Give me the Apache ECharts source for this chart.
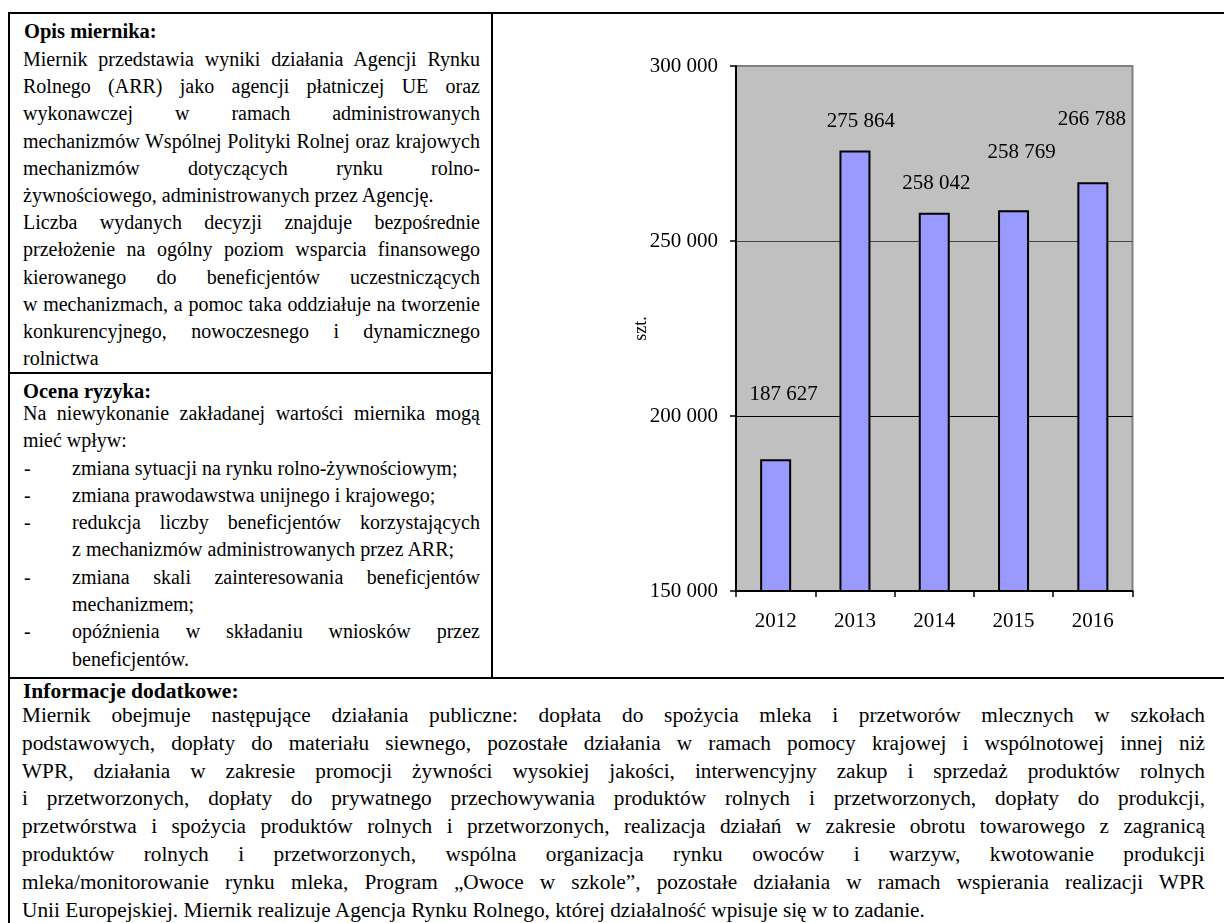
<!DOCTYPE html>
<html lang="pl">
<head>
<meta charset="utf-8">
<title>Miernik ARR</title>
<script src="https://cdn.jsdelivr.net/npm/echarts@6/dist/echarts.min.js"></script>
<style>
  html, body {
    margin: 0;
    padding: 0;
    width: 1224px;
    height: 923px;
    overflow: hidden;
    background: #fff;
    font-family: "Liberation Serif", "Times New Roman", serif;
    color: #000;
  }
  .hline, .vline {
    position: absolute;
    background: #000;
  }
  .sec {
    position: absolute;
    font-size: 20px;
  }
  .head {
    position: absolute;
    font-size: 20.5px;
    font-weight: bold;
    line-height: 22px;
    white-space: nowrap;
  }
  .sec div {
    position: relative;
  }
  .j {
    text-align: justify;
    text-align-last: justify;
  }
  .l {
    text-align: left;
  }
  .ind {
    padding-left: 49px;
  }
  .dash {
    position: absolute;
    left: 1px;
  }
  #chart {
    position: absolute;
    left: 493px;
    top: 14px;
    width: 731px;
    height: 663px;
  }
</style>
</head>
<body>

<!-- ramka tabeli -->
<div class="hline" style="left:8px; top:12px; width:1220px; height:2px;"></div>
<div class="vline" style="left:8px; top:12px; width:2px; height:920px;"></div>
<div class="vline" style="left:491px; top:12px; width:2px; height:667px;"></div>
<div class="hline" style="left:8px; top:372px; width:485px; height:2px;"></div>
<div class="hline" style="left:8px; top:677px; width:1220px; height:2px;"></div>

<div class="head" style="left:24px; top:20px;">Opis miernika:</div>
<div class="sec" style="left:23px; top:46px; width:457px; line-height:27.2px;">
  <div class="j">Miernik przedstawia wyniki działania Agencji Rynku</div>
  <div class="j">Rolnego (ARR) jako agencji płatniczej UE oraz</div>
  <div class="j">wykonawczej w ramach administrowanych</div>
  <div class="j">mechanizmów Wspólnej Polityki Rolnej oraz krajowych</div>
  <div class="j">mechanizmów dotyczących rynku rolno-</div>
  <div class="l">żywnościowego, administrowanych przez Agencję.</div>
  <div class="j">Liczba wydanych decyzji znajduje bezpośrednie</div>
  <div class="j">przełożenie na ogólny poziom wsparcia finansowego</div>
  <div class="j">kierowanego do beneficjentów uczestniczących</div>
  <div class="j">w mechanizmach, a pomoc taka oddziałuje na tworzenie</div>
  <div class="j">konkurencyjnego, nowoczesnego i dynamicznego</div>
  <div class="l">rolnictwa</div>
</div>

<div class="head" style="left:23px; top:380px;">Ocena ryzyka:</div>
<div class="sec" style="left:23px; top:400px; width:457px; line-height:27.3px;">
  <div class="j">Na niewykonanie zakładanej wartości miernika mogą</div>
  <div class="l">mieć wpływ:</div>
  <div class="l ind"><span class="dash">-</span>zmiana sytuacji na rynku rolno-żywnościowym;</div>
  <div class="l ind"><span class="dash">-</span>zmiana prawodawstwa unijnego i krajowego;</div>
  <div class="j ind"><span class="dash">-</span>redukcja liczby beneficjentów korzystających</div>
  <div class="l ind">z mechanizmów administrowanych przez ARR;</div>
  <div class="j ind"><span class="dash">-</span>zmiana skali zainteresowania beneficjentów</div>
  <div class="l ind">mechanizmem;</div>
  <div class="j ind"><span class="dash">-</span>opóźnienia w składaniu wniosków przez</div>
  <div class="l ind">beneficjentów.</div>
</div>

<div class="head" style="left:23px; top:680px; font-size:21.5px;">Informacje dodatkowe:</div>
<div class="sec" style="left:22px; top:702px; width:1183px; line-height:27.8px; font-size:21.3px;">
  <div class="j">Miernik obejmuje następujące działania publiczne: dopłata do spożycia mleka i przetworów mlecznych w szkołach</div>
  <div class="j">podstawowych, dopłaty do materiału siewnego, pozostałe działania w ramach pomocy krajowej i wspólnotowej innej niż</div>
  <div class="j">WPR, działania w zakresie promocji żywności wysokiej jakości, interwencyjny zakup i sprzedaż produktów rolnych</div>
  <div class="j">i przetworzonych, dopłaty do prywatnego przechowywania produktów rolnych i przetworzonych, dopłaty do produkcji,</div>
  <div class="j">przetwórstwa i spożycia produktów rolnych i przetworzonych, realizacja działań w zakresie obrotu towarowego z zagranicą</div>
  <div class="j">produktów rolnych i przetworzonych, wspólna organizacja rynku owoców i warzyw, kwotowanie produkcji</div>
  <div class="j">mleka/monitorowanie rynku mleka, Program „Owoce w szkole”, pozostałe działania w ramach wspierania realizacji WPR</div>
  <div class="l">Unii Europejskiej. Miernik realizuje Agencja Rynku Rolnego, której działalność wpisuje się w to zadanie.</div>
</div>

<div id="chart"></div>

<script>
  // dane z wykresu
  var years = ['2012', '2013', '2014', '2015', '2016'];
  var decisions = [187627, 275864, 258042, 258769, 266788];
  var yTicks = [150000, 200000, 250000, 300000];
  // przesunięcia etykiet (jak w Excelu, etykiety nie leżą równo nad słupkami)
  var labelNudges = [[8, -54], [6, -18], [2, -19], [8, -47], [-1, -52]];

  var serif = 'Liberation Serif';

  function fmt(v) {
    return String(v).replace(/\B(?=(\d{3})+(?!\d))/g, ' ');
  }

  var chart = echarts.init(document.getElementById('chart'));
  chart.setOption({
    animation: false,
    grid: {
      left: 243,
      top: 52,
      right: 91.5,
      bottom: 86,
      show: true,
      backgroundColor: '#C0C0C0',
      borderColor: '#808080',
      borderWidth: 2
    },
    xAxis: {
      type: 'category',
      data: years,
      axisLine: { lineStyle: { color: '#000', width: 2 } },
      axisTick: { show: true, length: 6, lineStyle: { color: '#000', width: 1.5 } },
      axisLabel: { color: '#000', fontFamily: serif, fontSize: 21, margin: 20 },
      splitLine: { show: false }
    },
    yAxis: {
      type: 'value',
      min: yTicks[0],
      max: yTicks[yTicks.length - 1],
      interval: yTicks[1] - yTicks[0],
      name: 'szt.',
      nameLocation: 'middle',
      nameGap: 86,
      nameMoveOverlap: false,
      nameTextStyle: { color: '#000', fontFamily: serif, fontSize: 18 },
      axisLine: { show: true, lineStyle: { color: '#000', width: 2 } },
      axisTick: { show: true, length: 6, lineStyle: { color: '#000', width: 1.5 } },
      axisLabel: { color: '#000', fontFamily: serif, fontSize: 21, margin: 18, formatter: fmt },
      splitLine: {
        show: true,
        lineStyle: { color: ['#000', '#000', '#444', '#808080'], width: 1 }
      }
    },
    series: [{
      type: 'bar',
      barWidth: 31,
      itemStyle: { color: '#9999FF', borderColor: '#000', borderWidth: 2 },
      label: {
        show: true,
        position: 'top',
        distance: 0,
        color: '#000',
        fontFamily: serif,
        fontSize: 21,
        formatter: function (p) { return fmt(p.value); }
      },
      data: decisions.map(function (v, i) {
        return { value: v, label: { offset: labelNudges[i] } };
      })
    }]
  });
</script>
</body>
</html>
